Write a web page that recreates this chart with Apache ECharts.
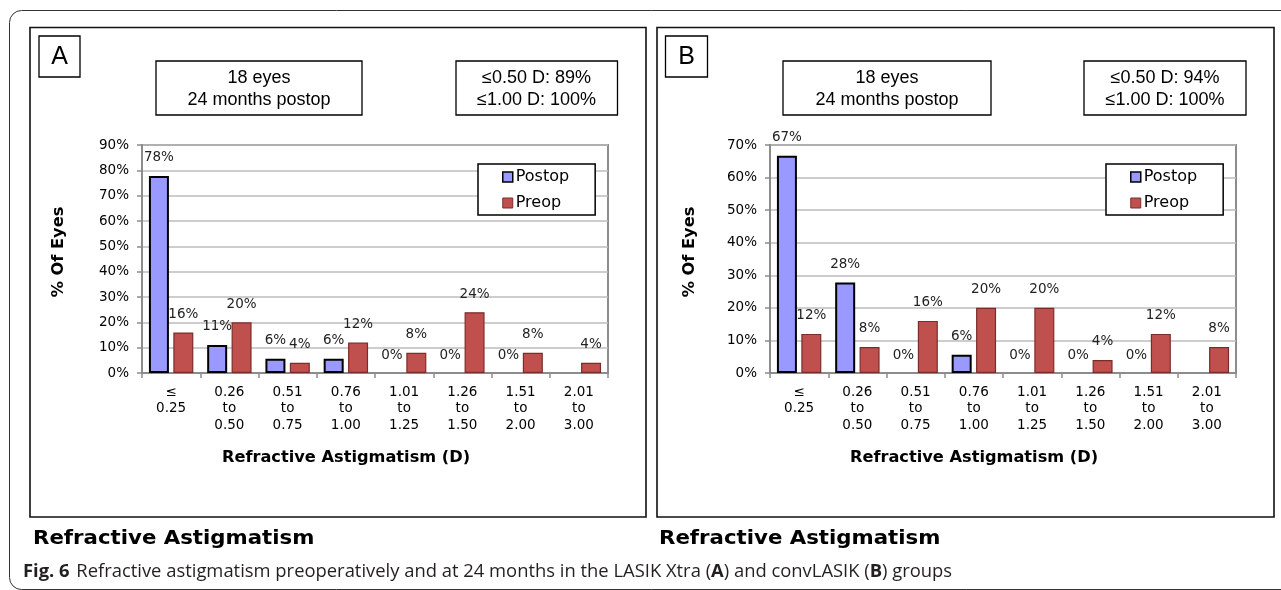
<!DOCTYPE html>
<html>
<head>
<meta charset="utf-8">
<script src="https://cdn.jsdelivr.net/npm/echarts@6/dist/echarts.min.js"></script>
<style>
html,body{margin:0;padding:0;background:#fff;}
#chart{width:1281px;height:590px;}
</style>
</head>
<body>
<div id="chart"></div>
<script>
const categories = ['≤\n0.25','0.26\nto\n0.50','0.51\nto\n0.75','0.76\nto\n1.00','1.01\nto\n1.25','1.26\nto\n1.50','1.51\nto\n2.00','2.01\nto\n3.00'];
const postopA = [77.8, 11.1, 5.6, 5.6, 0, 0, 0, null];
const preopA  = [16, 20, 4, 12, 8, 24, 8, 4];
const postopB = [66.7, 27.8, 0, 5.6, 0, 0, 0, null];
const preopB  = [12, 8, 16, 20, 20, 4, 12, 8];
const yMaxA = 90, yMaxB = 70, yStep = 10;
const panelLetters = ['A','B'];
const boxLine1 = '18 eyes', boxLine2 = '24 months postop';
const summaryA = ['≤0.50 D: 89%','≤1.00 D: 100%'];
const summaryB = ['≤0.50 D: 94%','≤1.00 D: 100%'];
const yTitle = '% Of Eyes';
const xTitle = 'Refractive Astigmatism (D)';
const panelTitle = 'Refractive Astigmatism';

const POST_COLOR = '#9999ff', PRE_COLOR = '#c0504d';
const chart = echarts.init(document.getElementById('chart'));

function grid(left){ return {left:left, top:145, width:466, height:228, show:true, borderColor:'#8c8c8c', borderWidth:2, backgroundColor:'transparent'}; }
function xAxis(i){ return {type:'category', gridIndex:i, data:categories,
  axisLine:{lineStyle:{color:'#8c8c8c', width:2}},
  axisTick:{show:true, length:5, lineStyle:{color:'#8c8c8c', width:1.5}},
  axisLabel:{color:'#000', fontFamily:'DejaVu Sans', fontSize:13.5, lineHeight:16.5, margin:11, interval:0}}; }
function yAxis(i,max){ return {type:'value', gridIndex:i, min:0, max:max, interval:yStep,
  axisLine:{show:true, lineStyle:{color:'#8c8c8c', width:2}},
  axisTick:{show:true, length:5, lineStyle:{color:'#8c8c8c', width:1.5}},
  splitLine:{lineStyle:{color:'#bdbdbd', width:1.5}},
  axisLabel:{color:'#000', fontFamily:'DejaVu Sans', fontSize:13.5, margin:13, formatter:'{value}%'}}; }
const lbl = {show:true, position:'top', distance:11, color:'#222', fontFamily:'DejaVu Sans', fontSize:13.5,
  formatter:p => (p.value==null? '' : Math.round(p.value)+'%')};
function bar(name, data, i, color, bc, bw){ return {name:name, type:'bar', xAxisIndex:i, yAxisIndex:i,
  data:data.map(v => v===0 ? {value:0, itemStyle:{borderWidth:0}} : v),
  barWidth:20, barGap:'22%', itemStyle:{color:color, borderColor:bc, borderWidth:bw}, label:lbl, emphasis:{disabled:true}}; }

function legend(left){ return {left:left, top:164, orient:'vertical', width:70,
  backgroundColor:'#fff', borderColor:'#000', borderWidth:1.5, borderRadius:0,
  padding:[5,26,4,24], itemGap:10, itemWidth:10, itemHeight:10, icon:'rect',
  textStyle:{fontFamily:'DejaVu Sans', fontSize:16, color:'#000', padding:[0,0,0,-2]},
  data:[{name:'Postop', itemStyle:{color:POST_COLOR, borderColor:'#000', borderWidth:1.5}},
        {name:'Preop', itemStyle:{color:PRE_COLOR, borderColor:'#7b2c2a', borderWidth:1}}],
  selectedMode:false}; }

function boxRect(x,y,w,h){ return {type:'rect', shape:{x:x,y:y,width:w,height:h}, style:{fill:'#fff', stroke:'#000', lineWidth:1.3}, z:5}; }
function txt(x,y,t,font,extra){ return Object.assign({type:'text', x:x, y:y, style:{text:t, font:font, fill:'#000', align:'center', verticalAlign:'middle'}, z:6}, extra||{}); }

const graphics = [
  {type:'rect', shape:{x:9.5,y:10.5,width:1300,height:579,r:12}, style:{fill:'none', stroke:'#333', lineWidth:1}, z:-2},
  {type:'rect', shape:{x:30,y:27.5,width:616,height:489.5}, style:{fill:'#fff', stroke:'#111', lineWidth:1.6}, z:-1},
  {type:'rect', shape:{x:657,y:27.5,width:617,height:489.5}, style:{fill:'#fff', stroke:'#111', lineWidth:1.6}, z:-1},
  boxRect(39,36,41,41), txt(59.5,57,panelLetters[0],'25px "Liberation Sans"'),
  boxRect(665.5,36,42,41), txt(686.5,57,panelLetters[1],'25px "Liberation Sans"'),
  boxRect(156,61,206,54), txt(259,78.5,boxLine1,'18px "Liberation Sans"'), txt(259,100,boxLine2,'18px "Liberation Sans"'),
  boxRect(456,61,161.5,54), txt(536.5,78.5,summaryA[0],'18px "Liberation Sans"'), txt(536.5,100,summaryA[1],'18px "Liberation Sans"'),
  boxRect(783,61,208,54), txt(887,78.5,boxLine1,'18px "Liberation Sans"'), txt(887,100,boxLine2,'18px "Liberation Sans"'),
  boxRect(1084,61,162,54), txt(1165,78.5,summaryB[0],'18px "Liberation Sans"'), txt(1165,100,summaryB[1],'18px "Liberation Sans"'),
  txt(59.5,252,yTitle,'bold 15px "DejaVu Sans"',{rotation:Math.PI/2, scaleX:1.08}),
  txt(690,252,yTitle,'bold 15px "DejaVu Sans"',{rotation:Math.PI/2, scaleX:1.08}),
  txt(346,458,xTitle,'bold 15px "DejaVu Sans"',{scaleX:1.08}),
  txt(974,458,xTitle,'bold 15px "DejaVu Sans"',{scaleX:1.08}),
  {type:'text', x:33, y:539, scaleX:1.12, style:{text:panelTitle, font:'bold 19px "DejaVu Sans"', fill:'#000', align:'left', verticalAlign:'middle'}, z:6},
  {type:'text', x:659, y:539, scaleX:1.12, style:{text:panelTitle, font:'bold 19px "DejaVu Sans"', fill:'#000', align:'left', verticalAlign:'middle'}, z:6},
  {type:'text', x:23, y:572, style:{
    text:'{b|Fig. 6}  {n|Refractive astigmatism preoperatively and at 24 months in the LASIK Xtra (}{b|A}{n|) and convLASIK (}{b|B}{n|) groups}',
    verticalAlign:'middle', align:'left',
    rich:{b:{font:'bold 18.4px "Open Sans"', fill:'#231f20'}, n:{font:'18.4px "Open Sans"', fill:'#231f20'}}}, z:6}
];

chart.setOption({
  animation:false,
  backgroundColor:'#fff',
  grid:[grid(142), grid(770)],
  xAxis:[xAxis(0), xAxis(1)],
  yAxis:[yAxis(0,yMaxA), yAxis(1,yMaxB)],
  legend:[legend(478), legend(1106)],
  series:[
    bar('Postop', postopA, 0, POST_COLOR, '#000', 2),
    bar('Preop', preopA, 0, PRE_COLOR, '#7b2c2a', 1.2),
    bar('Postop', postopB, 1, POST_COLOR, '#000', 2),
    bar('Preop', preopB, 1, PRE_COLOR, '#7b2c2a', 1.2)
  ],
  graphic:graphics
});
</script>
</body>
</html>
